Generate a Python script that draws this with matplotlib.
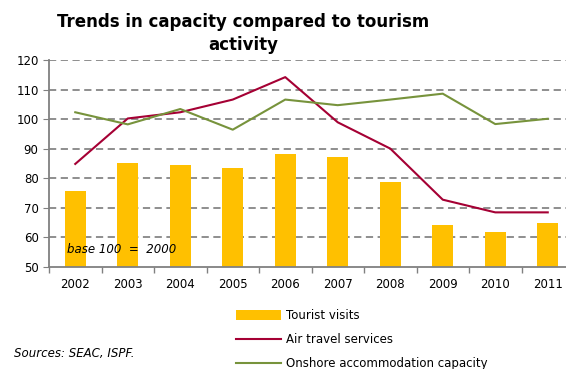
import matplotlib.pyplot as plt
import numpy as np

years = ['2002', '2003', '2004', '2005', '2006', '2007', '2008', '2009', '2010', '2011']
tourist_visits = [75.6, 85.1, 84.5, 83.3, 88.3, 87.0, 78.7, 64.1, 61.6, 64.8]
air_travel = [84.8, 100.2, 102.3, 106.6, 114.2, 98.9, 90.0, 72.7, 68.4, 68.4]
onshore_capacity = [102.3, 98.2, 103.4, 96.4, 106.6, 104.7, 106.6, 108.6, 98.3, 100.1]

fig = plt.figure(figsize=(5.66, 3.69), dpi=100)
ax = fig.add_axes([49 / 566, 102.3 / 369, 525 / 566, 206.7 / 369])

x = np.arange(len(years))
bars = ax.bar(x, tourist_visits, width=0.4, color='#FFC000', zorder=2, label='Tourist visits')
l1, = ax.plot(x, air_travel, color='#A50034', lw=1.5, zorder=3, label='Air travel services')
l2, = ax.plot(x, onshore_capacity, color='#77933C', lw=1.5, zorder=3,
              label='Onshore accommodation capacity')

ax.set_xlim(-0.5, len(years) - 0.5)
ax.set_ylim(50, 120)
ax.set_yticks(range(50, 121, 10))
ax.set_xticks(x)
ax.set_xticklabels(years)
ax.set_xticks(np.arange(-0.5, len(years), 1), minor=True)
ax.tick_params(axis='x', which='major', length=0, pad=8, labelsize=8.5)
ax.tick_params(axis='x', which='minor', length=4, color='#808080', width=1)
ax.tick_params(axis='y', length=4, color='#808080', labelsize=8.5)

for v in range(60, 121, 10):
    ax.axhline(v, color='#868686', ls=(0, (4, 2.5)), lw=1.3, zorder=1)

for s in ['top', 'right']:
    ax.spines[s].set_visible(False)
for s in ['left', 'bottom']:
    ax.spines[s].set_color('#808080')
    ax.spines[s].set_linewidth(1.3)

ax.text(0.034, 0.065, 'base 100  =  2000', transform=ax.transAxes, fontsize=8.5,
        style='italic', zorder=4)

fig.text(243 / 566, 1 - 33.5 / 369, 'Trends in capacity compared to tourism\nactivity',
         ha='center', va='center', fontsize=12, fontweight='bold', linespacing=1.3)

fig.legend(handles=[bars, l1, l2], loc='upper left', bbox_to_anchor=(236 / 566, 1 - 309 / 369),
           frameon=False, fontsize=8.5, handlelength=3.8, handleheight=0.9, labelspacing=0.95,
           handletextpad=0.4, borderpad=0, borderaxespad=0)

fig.text(14 / 566, 1 - 354 / 369, 'Sources: SEAC, ISPF.', fontsize=8.5, style='italic',
         va='center')

fig.savefig('out.png', dpi=100)
